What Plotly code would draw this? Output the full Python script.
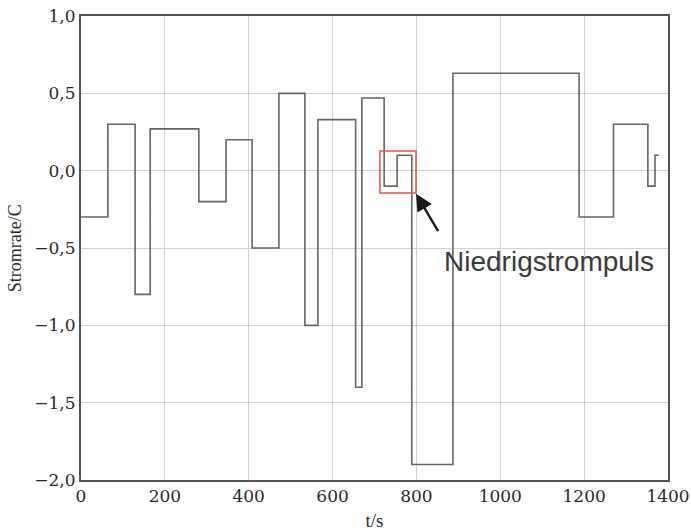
import plotly.graph_objects as go

# Step change times (s) and current rate levels (C)
t_steps = [0, 64, 129, 165, 281, 346, 408, 472, 534, 565, 655, 670, 723, 754, 789, 887, 1188, 1270, 1352, 1369, 1378]
rate = [-0.30, 0.30, -0.80, 0.27, -0.20, 0.20, -0.50, 0.50, -1.00, 0.33, -1.40, 0.47, -0.10, 0.10, -1.90, 0.63, -0.30, 0.30, -0.10, 0.10, 0.10]

x_ticks = [0, 200, 400, 600, 800, 1000, 1200, 1400]
y_ticks = [-2.0, -1.5, -1.0, -0.5, 0.0, 0.5, 1.0]
y_ticktext = ["\u22122,0", "\u22121,5", "\u22121,0", "\u22120,5", "0,0", "0,5", "1,0"]

box_t = [713, 799]
box_y = [-0.144, 0.127]

serif = "DejaVu Serif, Liberation Serif, serif"

fig = go.Figure()
fig.add_trace(go.Scatter(x=t_steps, y=rate, mode="lines", line_shape="hv",
                         line=dict(color="#666666", width=1.6), showlegend=False))

fig.add_shape(type="rect", x0=box_t[0], x1=box_t[1], y0=box_y[0], y1=box_y[1],
              xref="x", yref="y", line=dict(color="#e8534a", width=1.5))

fig.add_annotation(x=799, y=-0.15, ax=854, ay=-0.40, xref="x", yref="y", axref="x", ayref="y",
                   text="", showarrow=True, arrowhead=2, arrowsize=1.4, arrowwidth=2.4,
                   arrowcolor="#1a1a1a")
fig.add_annotation(x=861, y=-0.585, xref="x", yref="y", text="Niedrigstrompuls",
                   showarrow=False, xanchor="left", yanchor="middle",
                   font=dict(family="Liberation Sans, Arial, sans-serif", size=28, color="#3a3a3a"))

# y-axis title placed as rotated text
fig.add_annotation(x=-0.112, y=0.5, xref="paper", yref="paper", text="Stromrate/C",
                   textangle=-90, showarrow=False, xanchor="center", yanchor="middle",
                   font=dict(family="Liberation Serif, serif", size=18, color="#2a2a2a"))

axis_common = dict(showgrid=True, gridcolor="#d2d2d2", gridwidth=1, showline=True,
                   linecolor="#555555", linewidth=2, mirror=True, zeroline=False,
                   automargin=False,
                   ticks="", tickfont=dict(family=serif, size=17, color="#2a2a2a"))

fig.update_xaxes(range=[0, 1400], tickvals=x_ticks, ticktext=[str(v) for v in x_ticks],
                 title=dict(text="t/s",
                            font=dict(family="Liberation Serif, serif", size=19, color="#2a2a2a")),
                 **axis_common)
fig.update_yaxes(range=[-2.0, 1.0], tickvals=y_ticks, ticktext=y_ticktext, **axis_common)

fig.update_layout(width=691, height=531, margin=dict(l=81, r=23, t=16, b=51),
                  plot_bgcolor="white", paper_bgcolor="white")

fig.write_html("out.html")
